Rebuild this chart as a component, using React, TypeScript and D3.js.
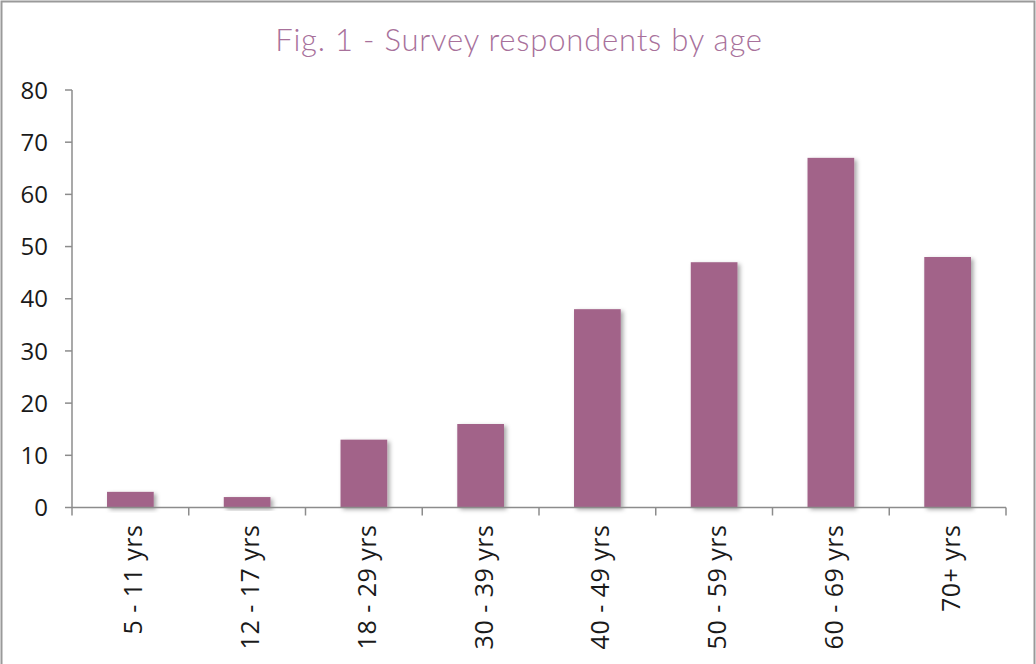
import * as d3 from 'd3'

const categories = ['5 - 11 yrs', '12 - 17 yrs', '18 - 29 yrs', '30 - 39 yrs', '40 - 49 yrs', '50 - 59 yrs', '60 - 69 yrs', '70+ yrs']
const respondents = [3, 2, 13, 16, 38, 47, 67, 48]
const yTicks = [0, 10, 20, 30, 40, 50, 60, 70, 80]

const W = 1036
const H = 664
const margin = { top: 90, right: 30, bottom: 156.5, left: 72 }

export default function App() {
  const w = 1006 - margin.left
  const h = 507.5 - margin.top

  const x = d3.scaleBand<string>().domain(categories).range([0, w]).paddingInner(0.6).paddingOuter(0.3)
  const xb = d3.scaleBand<string>().domain(categories).range([0, w])
  const y = d3.scaleLinear().domain([0, 80]).range([h, 0])

  const labelFont = "'Segoe UI', 'Open Sans', 'Noto Sans', sans-serif"

  return (
    <svg
      width={W}
      height={H}
      style={{ position: 'absolute', left: 0, top: 0, background: '#fff' }}
    >
      <defs>
        <filter id="shadow" x="-20%" y="-20%" width="150%" height="150%">
          <feDropShadow dx="2.5" dy="2" stdDeviation="2" floodColor="#000" floodOpacity="0.35" />
        </filter>
      </defs>
      <rect x={1.5} y={1.5} width={W - 3} height={H + 10} fill="none" stroke="#9a9a9a" strokeWidth={2} />
      <text
        x={W / 2 + 1}
        y={51}
        textAnchor="middle"
        fill="#a8719b"
        style={{ fontFamily: "'Century Gothic', 'Lato', 'Open Sans', sans-serif", fontSize: 31, fontWeight: 300, letterSpacing: 0.8 }}
      >
        Fig. 1 - Survey respondents by age
      </text>
      <g transform={`translate(${margin.left},${margin.top})`}>
        {/* y axis */}
        <line x1={0} x2={0} y1={0} y2={h} stroke="#8c8c8c" strokeWidth={1.5} />
        {yTicks.map(t => (
          <g key={t} transform={`translate(0,${y(t)})`}>
            <line x1={-7} x2={0} stroke="#8c8c8c" strokeWidth={1.5} />
            <text
              x={-24}
              dy="0.36em"
              textAnchor="end"
              fill="#1a1a1a"
              style={{ fontFamily: labelFont, fontSize: 24 }}
            >
              {t}
            </text>
          </g>
        ))}
        {/* bars */}
        {categories.map((c, i) => (
          <rect
            key={c}
            x={x(c)}
            y={y(respondents[i])}
            width={x.bandwidth()}
            height={h - y(respondents[i])}
            fill="#a26389"
            filter="url(#shadow)"
          />
        ))}
        {/* x axis */}
        <line x1={0} x2={w} y1={h} y2={h} stroke="#8c8c8c" strokeWidth={1.5} />
        {categories.map(c => (
          <line key={c} x1={xb(c)} x2={xb(c)} y1={h} y2={h + 8} stroke="#8c8c8c" strokeWidth={1.5} />
        ))}
        <line x1={w} x2={w} y1={h} y2={h + 8} stroke="#8c8c8c" strokeWidth={1.5} />
        {categories.map(c => (
          <text
            key={c}
            transform={`translate(${(xb(c) ?? 0) + xb.bandwidth() / 2 + 3},${h + 17}) rotate(-90)`}
            textAnchor="end"
            dy="0.36em"
            fill="#1a1a1a"
            style={{ fontFamily: labelFont, fontSize: 25, letterSpacing: 0.5 }}
          >
            {c}
          </text>
        ))}
      </g>
    </svg>
  )
}
